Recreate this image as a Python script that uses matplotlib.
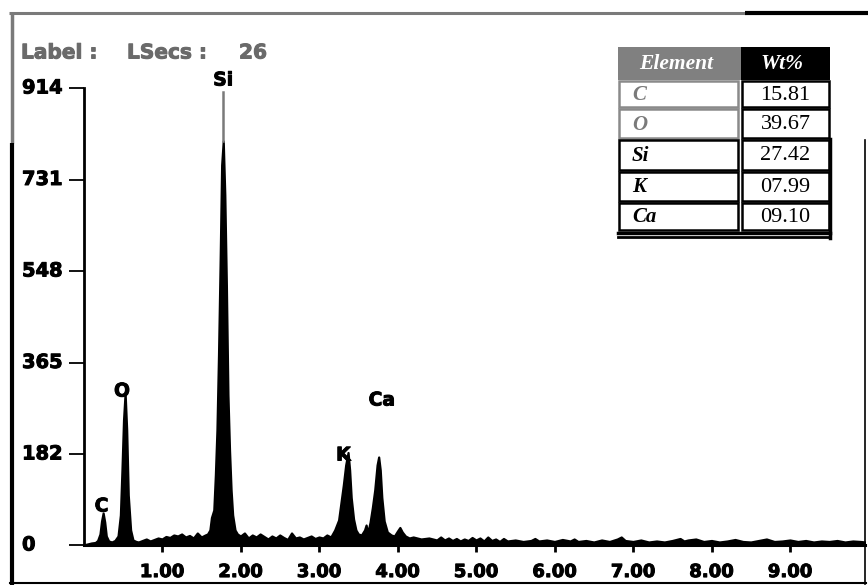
import matplotlib
matplotlib.use("Agg")
import matplotlib.pyplot as plt
import matplotlib.patheffects as pe
from matplotlib.patches import Rectangle
from matplotlib.transforms import blended_transform_factory

# EDS spectrum (energy in keV, counts)
energy = [0.00, 0.05, 0.10, 0.15, 0.18, 0.21, 0.23, 0.25, 0.27, 0.29, 0.32, 0.36, 0.40,
          0.44, 0.47, 0.49, 0.51, 0.53, 0.55, 0.57, 0.60, 0.63, 0.67,
          0.70, 0.75, 0.80, 0.85, 0.90, 0.95, 1.00, 1.05, 1.10, 1.15, 1.20, 1.25,
          1.30, 1.35, 1.40, 1.45, 1.50, 1.55,
          1.58, 1.61, 1.63, 1.66, 1.68, 1.70, 1.72, 1.74, 1.76, 1.78, 1.80, 1.82,
          1.84, 1.86, 1.88, 1.90, 1.93, 1.96,
          2.00, 2.05, 2.10, 2.15, 2.20, 2.25, 2.30, 2.35, 2.40, 2.45, 2.50, 2.55,
          2.60, 2.65, 2.70, 2.75, 2.80, 2.85, 2.90, 2.95, 3.00, 3.05, 3.10, 3.15,
          3.20, 3.25, 3.28, 3.31, 3.34, 3.37, 3.39, 3.41, 3.44, 3.47, 3.50, 3.54,
          3.58, 3.60, 3.62,
          3.65, 3.68, 3.71, 3.74, 3.76, 3.78, 3.80, 3.83, 3.87, 3.92, 3.96,
          4.00, 4.03, 4.06, 4.10, 4.15, 4.20, 4.30, 4.40,
          4.50, 4.55, 4.60, 4.65, 4.70, 4.75, 4.80, 4.85, 4.90, 4.95, 5.00, 5.05,
          5.10, 5.15, 5.20, 5.25, 5.30, 5.35, 5.40, 5.50, 5.60, 5.70, 5.75, 5.80,
          5.90, 6.00, 6.10, 6.20, 6.25, 6.30, 6.40, 6.50, 6.60, 6.70, 6.80, 6.85,
          6.90, 7.00, 7.10, 7.20, 7.30, 7.40, 7.50, 7.60, 7.65, 7.70, 7.80, 7.90,
          8.00, 8.10, 8.20, 8.30, 8.40, 8.50, 8.60, 8.70, 8.80, 8.90, 9.00, 9.10,
          9.20, 9.30, 9.40, 9.50, 9.60, 9.70, 9.80, 9.90, 9.96]
counts = [0, 2, 4, 5, 9, 22, 48, 64, 46, 18, 8, 6, 9,
          18, 60, 150, 250, 304, 230, 100, 30, 10, 7,
          6, 9, 12, 8, 11, 14, 12, 17, 15, 20, 18, 22,
          16, 19, 14, 24, 16, 20,
          22, 30, 55, 70, 140, 230, 380, 560, 760, 808, 700, 520,
          300, 190, 110, 60, 30, 22,
          18, 24, 14, 20, 16, 22, 17, 12, 18, 14, 20, 15,
          11, 24, 14, 16, 12, 15, 18, 13, 16, 14, 20, 16,
          30, 50, 85, 120, 160, 185, 150, 95, 52, 30, 22, 20,
          30, 40, 24,
          45, 75, 110, 160, 176, 150, 95, 48, 26, 20, 18,
          28, 35, 26, 18, 14, 16, 12, 14,
          10, 16, 10, 14, 9, 13, 8, 12, 9, 15, 10, 14,
          8, 16, 9, 12, 7, 13, 8, 10, 7, 9, 13, 8,
          10, 7, 11, 8, 12, 7, 9, 6, 10, 7, 12, 16,
          9, 7, 10, 6, 8, 6, 9, 13, 8, 10, 12, 7,
          9, 6, 8, 11, 7, 6, 9, 12, 7, 8, 10, 7,
          9, 6, 8, 7, 9, 6, 8, 7, 6]

y_ticks = [0, 182, 365, 548, 731, 914]
x_ticks = [1, 2, 3, 4, 5, 6, 7, 8, 9]
x_tick_labels = ["1.00", "2.00", "3.00", "4.00", "5.00", "6.00", "7.00", "8.00", "9.00"]

peak_names = ["C", "O", "Si", "K", "Ca"]
peak_label_x = [0.23, 0.49, 1.78, 3.31, 3.80]
peak_label_y = [78, 308, 930, 180, 290]
si_marker = (1.78, 808, 906)

elements = ["C", "O", "Si", "K", "Ca"]
wt_pct = ["15.81", "39.67", "27.42", "07.99", "09.10"]

W, H = 868, 586
fig = plt.figure(figsize=(W / 100, H / 100), dpi=100)
heavy = [pe.withStroke(linewidth=0.7, foreground="black")]

# overlay in pixel coordinates for frame, header and table
ov = fig.add_axes([0, 0, 1, 1], zorder=0)
ov.set_xlim(0, W)
ov.set_ylim(H, 0)
ov.axis("off")

gray = "#7a7a7a"
ov.plot([9, 745], [13, 13], color=gray, lw=2.2, solid_capstyle="butt")
ov.plot([745, 868], [13, 13], color="black", lw=3, solid_capstyle="butt")
ov.plot([12, 12], [12, 143], color=gray, lw=2.5, solid_capstyle="butt")
ov.plot([12, 12], [143, 585], color="black", lw=3, solid_capstyle="butt")
ov.plot([10, 866], [583, 583], color="black", lw=1.5)
ov.plot([865, 865], [545, 584], color="black", lw=1.2)

head_gray = [pe.withStroke(linewidth=0.7, foreground="#6a6a6a")]
for hx, htxt in [(21, "Label :"), (127, "LSecs :"), (239, "26")]:
    ov.text(hx, 53, htxt, fontsize=14.5, fontweight="bold", color="#6a6a6a",
            ha="left", va="center", family="DejaVu Sans", path_effects=head_gray)

# table
x0, x1, x2 = 618, 741, 830
row_edges = [47, 80, 108, 139, 171, 202, 231]
ov.add_patch(Rectangle((x0, row_edges[0]), x1 - x0, row_edges[1] - row_edges[0],
                       facecolor="#808080", edgecolor="none"))
ov.add_patch(Rectangle((x1, row_edges[0]), x2 - x1, row_edges[1] - row_edges[0],
                       facecolor="black", edgecolor="none"))
ov.text(x0 + 58, 64, "Element", fontsize=15.5, fontweight="bold", style="italic",
        color="white", ha="center", va="center", family="Liberation Serif")
ov.text(x1 + 20, 64, "Wt%", fontsize=15.5, fontweight="bold", style="italic",
        color="white", ha="left", va="center", family="Liberation Serif")
for i, (el, val) in enumerate(zip(elements, wt_pct)):
    top, bot = row_edges[i + 1], row_edges[i + 2]
    ec1 = "#8a8a8a" if i < 2 else "black"
    ov.add_patch(Rectangle((x0 + 1, top + 1), x1 - x0 - 4, bot - top - 2,
                           facecolor="white", edgecolor=ec1, lw=1.8))
    ov.add_patch(Rectangle((x1 + 1, top + 1), x2 - x1 - 2, bot - top - 2,
                           facecolor="white", edgecolor="black", lw=1.8))
    ov.text(x0 + 14, (top + bot) / 2 + 1, el, fontsize=15, fontweight="bold",
            style="italic", color=("#7a7a7a" if i < 2 else "black"),
            ha="left", va="center", family="Liberation Serif")
    ov.text((x1 + x2) / 2, (top + bot) / 2 + 1, val, fontsize=16,
            color="black", ha="center", va="center", family="Liberation Serif")
ov.plot([x0, x2], [232.5, 232.5], color="black", lw=2.5)
ov.plot([x0, x2], [237, 237], color="black", lw=2)
ov.plot([x2, x2], [139, 238], color="black", lw=2.5)

# spectrum axes: 0 keV at px 83.5, 78.5 px/keV; 0 counts at py 545, 0.5 px/count
ax_left, ax_right, ax_bottom, ax_top = 83.5, 865, 545, 55
ax = fig.add_axes([ax_left / W, (H - ax_bottom) / H, (ax_right - ax_left) / W,
                   (ax_bottom - ax_top) / H], zorder=2)
ax.patch.set_alpha(0)
ax.set_xlim(0, (ax_right - ax_left) / 78.5)
ax.set_ylim(0, (ax_bottom - ax_top) * 2)

ax.fill_between(energy, counts, 0, color="black", lw=1.6, edgecolor="black")
ax.plot([si_marker[0]] * 2, si_marker[1:], color="#7a7a7a", lw=1.8)

for name, px, py in zip(peak_names, peak_label_x, peak_label_y):
    ax.text(px, py, name, fontsize=13.5, fontweight="bold", ha="center",
            va="center", color="black", family="DejaVu Sans", path_effects=heavy)

ax.spines["top"].set_visible(False)
ax.spines["left"].set_bounds(0, 914)
ax.spines["left"].set_linewidth(2)
ax.spines["bottom"].set_linewidth(2.2)
ax.spines["right"].set_linewidth(1.2)
ax.spines["right"].set_bounds(0, (ax_bottom - 140) * 2)

ax.set_yticks(y_ticks)
ax.set_yticklabels([])
ax.tick_params(axis="y", length=11, width=1.3, direction="out")
ax.set_xticks(x_ticks)
ax.set_xticklabels(x_tick_labels, fontsize=13, fontweight="bold",
                   family="DejaVu Sans")
for lab in ax.get_xticklabels():
    lab.set_path_effects(heavy)
ax.tick_params(axis="x", length=5, width=2, direction="out", pad=8)

trans = blended_transform_factory(fig.transFigure, ax.transData)
for v in y_ticks:
    ax.text(22 / W, v, str(v), transform=trans, fontsize=14, fontweight="bold",
            ha="left", va="center", family="DejaVu Sans", clip_on=False,
            path_effects=heavy)

fig.savefig("out.png", dpi=100)
